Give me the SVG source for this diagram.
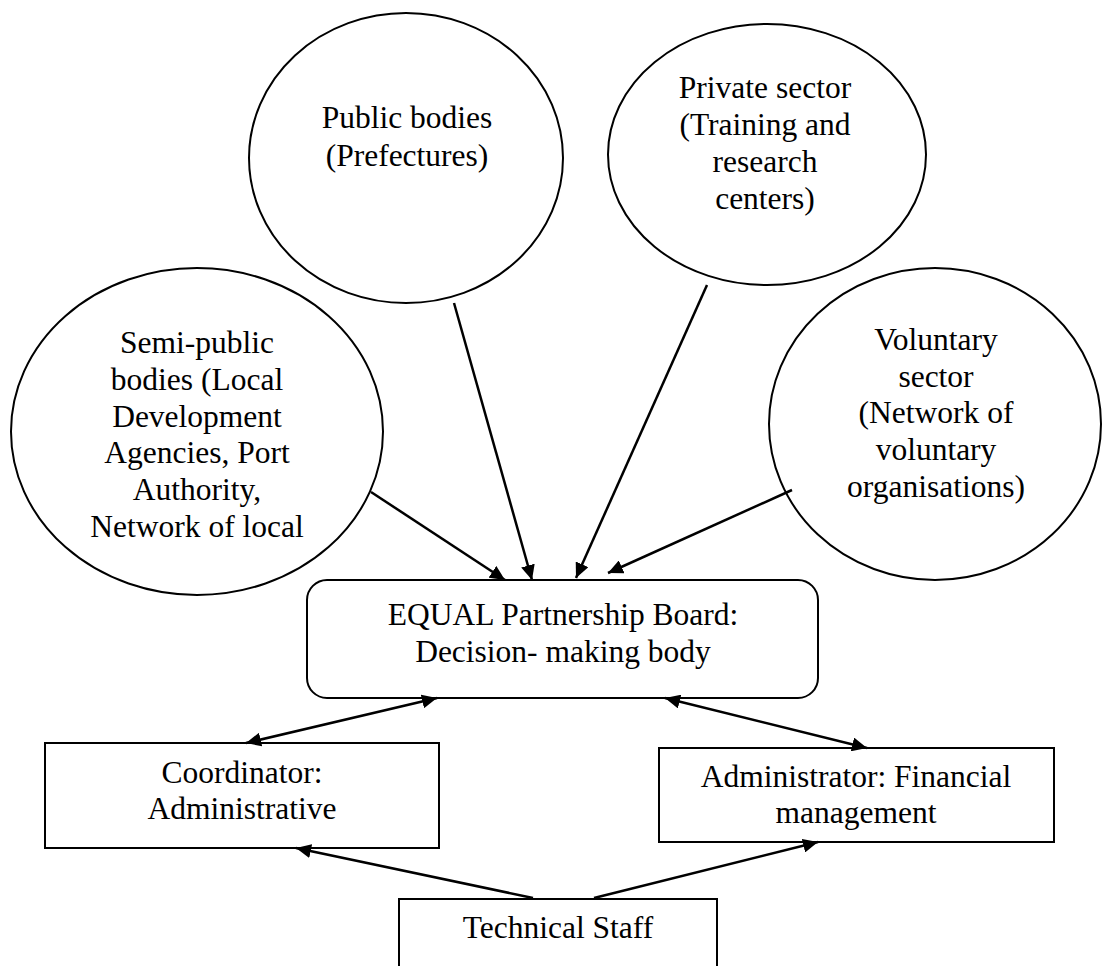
<svg xmlns="http://www.w3.org/2000/svg" width="1104" height="966" viewBox="0 0 1104 966">
<defs>
<style>
.shape{fill:#fff;stroke:#000;stroke-width:2}
text{font-family:'Liberation Serif','DejaVu Serif',serif;font-size:31.5px;fill:#000;text-anchor:middle}
.conn{stroke:#000;stroke-width:2.5;fill:none}
</style>
<marker id="ah" markerUnits="userSpaceOnUse" markerWidth="16" markerHeight="14" refX="15" refY="7" orient="auto-start-reverse">
<path d="M0,0 L15,7 L0,14 z" fill="#000"/>
</marker>
</defs>
<rect width="1104" height="966" fill="#fff"/>
<g font-family="'Liberation Serif', 'DejaVu Serif', serif" font-size="31.5" text-anchor="middle">
<g id="public-bodies">
<ellipse class="shape" cx="406" cy="158" rx="157" ry="145"/>
<text x="407" y="128">Public bodies</text>
<text x="407" y="166">(Prefectures)</text>
</g>
<g id="private-sector">
<ellipse class="shape" cx="767" cy="154.5" rx="159" ry="130.5"/>
<text x="765" y="98">Private sector</text>
<text x="765" y="135">(Training and</text>
<text x="765" y="172">research</text>
<text x="765" y="209">centers)</text>
</g>
<g id="semi-public">
<ellipse class="shape" cx="197" cy="431.5" rx="186" ry="163.5"/>
<text x="197" y="353">Semi-public</text>
<text x="197" y="390">bodies (Local</text>
<text x="197" y="427">Development</text>
<text x="197" y="463">Agencies, Port</text>
<text x="197" y="500">Authority,</text>
<text x="197" y="537">Network of local</text>
</g>
<g id="voluntary-sector">
<ellipse class="shape" cx="935" cy="424" rx="166" ry="156"/>
<text x="936" y="350">Voluntary</text>
<text x="936" y="387">sector</text>
<text x="936" y="423">(Network of</text>
<text x="936" y="460">voluntary</text>
<text x="936" y="497">organisations)</text>
</g>
<g id="equal-board">
<rect class="shape" x="307" y="580" width="511" height="118" rx="20" ry="20"/>
<text x="563" y="625">EQUAL Partnership Board:</text>
<text x="563" y="662">Decision- making body</text>
</g>
<g id="coordinator">
<rect class="shape" x="45" y="743" width="394" height="105"/>
<text x="242" y="783">Coordinator:</text>
<text x="242" y="819">Administrative</text>
</g>
<g id="administrator">
<rect class="shape" x="659" y="748" width="395" height="94"/>
<text x="856" y="787">Administrator: Financial</text>
<text x="856" y="823">management</text>
</g>
<g id="technical-staff">
<rect class="shape" x="399" y="899" width="318" height="100"/>
<text x="558" y="938">Technical Staff</text>
</g>
</g>
<g id="connectors">
<line class="conn" x1="371" y1="492" x2="505" y2="580" marker-end="url(#ah)"/>
<line class="conn" x1="454" y1="303" x2="532" y2="580" marker-end="url(#ah)"/>
<line class="conn" x1="707" y1="285" x2="576" y2="578" marker-end="url(#ah)"/>
<line class="conn" x1="792" y1="490" x2="608" y2="573" marker-end="url(#ah)"/>
<line class="conn" x1="246" y1="743" x2="437" y2="698" marker-start="url(#ah)" marker-end="url(#ah)"/>
<line class="conn" x1="665" y1="698" x2="867" y2="748" marker-start="url(#ah)" marker-end="url(#ah)"/>
<line class="conn" x1="533" y1="898" x2="296" y2="848" marker-end="url(#ah)"/>
<line class="conn" x1="594" y1="898" x2="818" y2="842" marker-end="url(#ah)"/>
</g>
</svg>
